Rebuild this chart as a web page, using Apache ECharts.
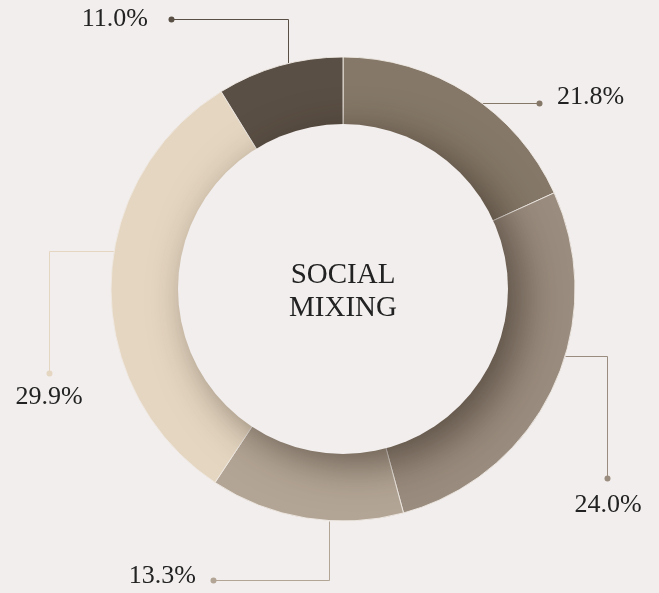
<!DOCTYPE html>
<html>
<head>
<meta charset="utf-8">
<script src="https://cdn.jsdelivr.net/npm/echarts@6/dist/echarts.min.js"></script>
<style>
html,body{margin:0;padding:0;background:#f2eeed;}
#c{width:659px;height:593px;}
</style>
</head>
<body>
<div id="c"></div>
<script>
// ---- data ----
const categories = ['A', 'B', 'C', 'D', 'E'];
const values = [18.2, 27.6, 13.5, 31.9, 8.8];
// percentage labels as printed on the picture
const labelTexts = ['21.8%', '24.0%', '13.3%', '29.9%', '11.0%'];
const colors = ['#857868', '#9a8c7e', '#b3a595', '#e5d6c1', '#5a4f44'];
const centerTitle = 'SOCIAL\nMIXING';

// ---- layout (styling only) ----
const CX = 343, CY = 289, R_OUT = 232, R_IN = 165;
const BG = '#f2eeed';
const leaders = [
  {mode: 'h', y: 103, side: 1, pts: [[539, 103]], tx: 557, ty: 97, align: 'left'},
  {mode: 'h', y: 356, side: 1, pts: [[607, 356], [607, 478]], tx: 608, ty: 505, align: 'center'},
  {mode: 'v', x: 329, side: 1, pts: [[329, 580], [213, 580]], tx: 196, ty: 576, align: 'right'},
  {mode: 'h', y: 251, side: -1, pts: [[49, 251], [49, 373]], tx: 49, ty: 397, align: 'center'},
  {mode: 'v', x: 288, side: -1, pts: [[288, 19], [171, 19]], tx: 148, ty: 19, align: 'right'}
];

function startPoint(L) {
  if (L.mode === 'h') {
    const dx = Math.sqrt(R_OUT * R_OUT - (L.y - CY) * (L.y - CY));
    return [CX + L.side * dx, L.y];
  } else {
    const dy = Math.sqrt(R_OUT * R_OUT - (L.x - CX) * (L.x - CX));
    return [L.x, CY + L.side * dy];
  }
}

const graphics = [];
graphics.push({
  type: 'circle', z: 100,
  shape: {cx: CX, cy: CY, r: R_IN},
  style: {fill: BG, shadowBlur: 40, shadowOffsetX: 14, shadowOffsetY: 10, shadowColor: 'rgba(40,30,20,0.55)'},
  silent: true
});
graphics.push({
  type: 'text', z: 101,
  x: CX, y: CY + 3,
  style: {text: centerTitle, fill: '#222', font: '29px "Liberation Serif"', align: 'center', verticalAlign: 'middle', lineHeight: 33},
  silent: true
});
leaders.forEach(function (L, i) {
  const p0 = startPoint(L);
  const pts = [p0].concat(L.pts).map(function (p) { return [Math.round(p[0]) + 0.5, Math.round(p[1]) + 0.5]; });
  graphics.push({
    type: 'polyline', z: 1,
    shape: {points: pts},
    style: {stroke: colors[i], lineWidth: 1, fill: null},
    silent: true
  });
  const end = pts[pts.length - 1];
  graphics.push({
    type: 'circle', z: 1,
    shape: {cx: end[0], cy: end[1], r: 3},
    style: {fill: colors[i]},
    silent: true
  });
});

const chart = echarts.init(document.getElementById('c'), null, {renderer: 'canvas'});
chart.setOption({
  backgroundColor: BG,
  animation: false,
  graphic: graphics,
  series: [{
    type: 'pie',
    center: [CX, CY],
    radius: [R_IN - 2, R_OUT],
    startAngle: 90,
    clockwise: true,
    silent: true,
    data: values.map(function (v, i) {
      return {name: categories[i], value: v, itemStyle: {color: colors[i]}};
    }),
    itemStyle: {borderColor: 'rgba(240,234,228,0.9)', borderWidth: 1},
    label: {
      show: true,
      position: 'outside',
      formatter: function (p) { return labelTexts[p.dataIndex]; },
      color: '#222',
      fontFamily: 'Liberation Serif',
      fontSize: 26,
      overflow: 'none',
      width: 200
    },
    labelLine: {show: false},
    labelLayout: function (params) {
      const L = leaders[params.dataIndex];
      return {x: L.tx, y: L.ty, align: L.align, verticalAlign: 'middle'};
    }
  }]
});
</script>
</body>
</html>
